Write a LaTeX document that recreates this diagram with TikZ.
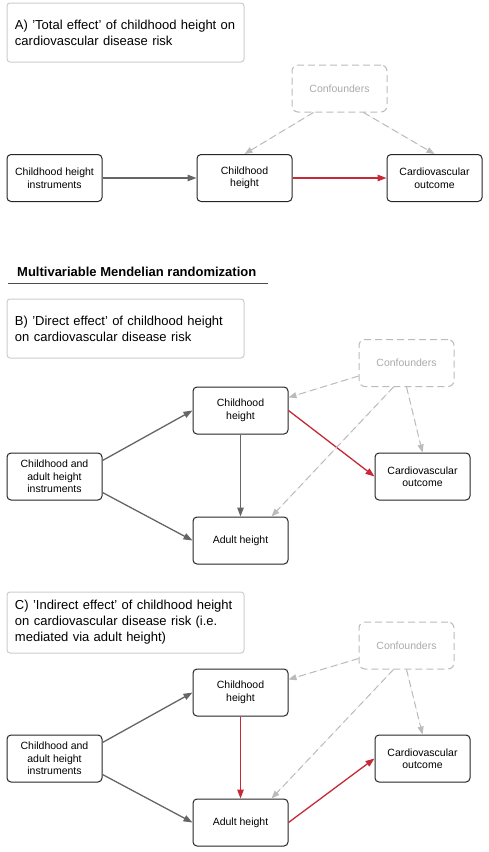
\documentclass[tikz,border=0pt]{standalone}
\usepackage{fontspec}
\setmainfont{Liberation Sans}
\usetikzlibrary{arrows.meta}

\definecolor{arrowgray}{HTML}{666666}
\definecolor{mrred}{HTML}{C62A37}
\definecolor{confgray}{HTML}{BBBBBB}
\definecolor{conftext}{HTML}{AAAAAA}
\definecolor{titlegray}{HTML}{CCCCCC}

\tikzset{
  varbox/.style={draw=black!85, line width=1pt, rounded corners=4pt, fill=white,
    minimum width=95pt, minimum height=47pt, inner sep=2pt, align=center,
    font=\fontsize{10.5}{12.5}\selectfont},
  confbox/.style={varbox, draw=confgray, dash pattern=on 7pt off 4pt,
    rounded corners=6pt, text=conftext},
  titlebox/.style={draw=titlegray, line width=1pt, rounded corners=3pt,
    minimum width=237pt, minimum height=59pt, text width=221pt, inner xsep=8pt,
    align=left, font=\fontsize{13}{16}\selectfont},
  arr/.style={draw=arrowgray, line width=1.3pt, -{Triangle[length=9pt,width=6.5pt]}},
  redarr/.style={arr, draw=mrred, fill=mrred},
  confarr/.style={draw=confgray, line width=1pt, dash pattern=on 7pt off 4pt,
    -{Triangle[length=8pt,width=6pt]}, fill=confgray}
}

\begin{document}
\begin{tikzpicture}[x=1pt,y=-1pt]

\useasboundingbox (0,0) rectangle (488,852);

% Panel A
\node[titlebox] (titleA) at (125.5,32.5) {A) 'Total effect' of childhood height on\\cardiovascular disease risk};
\node[confbox] (confA) at (339.5,88.5) {Confounders};
\node[varbox] (instrA) at (54.5,178) {Childhood height\\instruments};
\node[varbox] (childA) at (244.5,178) {Childhood\\height};
\node[varbox] (outA) at (434.5,178) {Cardiovascular\\outcome};

\draw[arr] (instrA) -- (childA);
\draw[redarr] (childA) -- (outA);
\draw[confarr] ([xshift=-26pt]confA.south) -- (childA.north);
\draw[confarr] ([xshift=24pt]confA.south) -- (outA.north);

% Heading
\node[anchor=west, font=\fontsize{13}{16}\selectfont\bfseries, inner sep=0pt] (mvmr) at (17,272) {Multivariable Mendelian randomization};
\draw[draw=black!70, line width=1pt] (8,283) -- (268,283);

% Panel B
\node[titlebox] (titleB) at (125.5,328.5) {B) 'Direct effect' of childhood height\\on cardiovascular disease risk};
\node[confbox] (confB) at (406.5,363) {Confounders};
\node[varbox] (childB) at (240.5,410.5) {Childhood\\height};
\node[varbox] (instrB) at (54.5,476.5) {Childhood and\\adult height\\instruments};
\node[varbox] (outB) at (422.5,476.5) {Cardiovascular\\outcome};
\node[varbox] (adultB) at (240.5,540.5) {Adult height};

\draw[arr] ([yshift=16pt]instrB.east) -- (childB.west);
\draw[arr] ([yshift=-16pt]instrB.east) -- (adultB.west);
\draw[arr] (childB) -- (adultB);
\draw[redarr] (childB.east) -- (outB.west);
\draw[confarr] ([yshift=-13pt]confB.west) -- ([yshift=-11pt]childB.north east);
\draw[confarr] ([xshift=-13pt]confB.south) -- ([xshift=31pt]adultB.north);
\draw[confarr] (confB.south) -- (outB.north);

% Panel C
\node[titlebox, minimum height=61pt] (titleC) at (125.5,622.5) {C) 'Indirect effect' of childhood height\\on cardiovascular disease risk (i.e.\\mediated via adult height)};
\node[confbox] (confC) at (406.5,645.5) {Confounders};
\node[varbox] (childC) at (240.5,692.5) {Childhood\\height};
\node[varbox] (instrC) at (54.5,758.5) {Childhood and\\adult height\\instruments};
\node[varbox] (outC) at (422.5,758.5) {Cardiovascular\\outcome};
\node[varbox] (adultC) at (240.5,822.5) {Adult height};

\draw[arr] ([yshift=16pt]instrC.east) -- (childC.west);
\draw[arr] ([yshift=-16pt]instrC.east) -- (adultC.west);
\draw[redarr] (childC) -- (adultC);
\draw[redarr] (adultC.east) -- (outC.west);
\draw[confarr] ([yshift=-13pt]confC.west) -- ([yshift=-11pt]childC.north east);
\draw[confarr] ([xshift=-13pt]confC.south) -- ([xshift=31pt]adultC.north);
\draw[confarr] (confC.south) -- (outC.north);

\end{tikzpicture}
\end{document}
